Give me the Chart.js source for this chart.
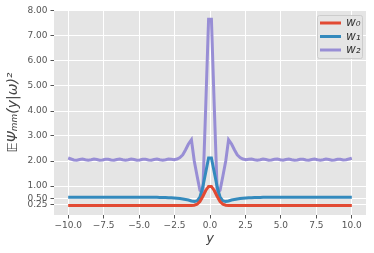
<!DOCTYPE html>
<html>
<head>
<meta charset="utf-8">
<script src="https://cdn.jsdelivr.net/npm/chart.js@4/dist/chart.umd.min.js"></script>
<style>
  html, body { margin: 0; padding: 0; background: #fff; }
  #wrap { width: 374px; height: 253px; }
</style>
</head>
<body>
<div id="wrap"><canvas id="myChart" width="374" height="253"></canvas></div>
<script>
const ctx = document.getElementById('myChart');

// sample grid on the y axis (100 points from -10 to 10)
const yGrid = [
  -10.00, -9.80, -9.60, -9.39, -9.19, -8.99, -8.79, -8.59, -8.38, -8.18,
  -7.98, -7.78, -7.58, -7.37, -7.17, -6.97, -6.77, -6.57, -6.36, -6.16,
  -5.96, -5.76, -5.56, -5.35, -5.15, -4.95, -4.75, -4.55, -4.34, -4.14,
  -3.94, -3.74, -3.54, -3.33, -3.13, -2.93, -2.73, -2.53, -2.32, -2.12,
  -1.92, -1.72, -1.52, -1.31, -1.11, -0.91, -0.71, -0.51, -0.30, -0.10,
  0.10, 0.30, 0.51, 0.71, 0.91, 1.11, 1.31, 1.52, 1.72, 1.92,
  2.12, 2.32, 2.53, 2.73, 2.93, 3.13, 3.33, 3.54, 3.74, 3.94,
  4.14, 4.34, 4.55, 4.75, 4.95, 5.15, 5.35, 5.56, 5.76, 5.96,
  6.16, 6.36, 6.57, 6.77, 6.97, 7.17, 7.37, 7.58, 7.78, 7.98,
  8.18, 8.38, 8.59, 8.79, 8.99, 9.19, 9.39, 9.60, 9.80, 10.00
];

const w0 = [
  0.22, 0.22, 0.22, 0.22, 0.22, 0.22, 0.22, 0.22, 0.22, 0.22,
  0.22, 0.22, 0.22, 0.22, 0.22, 0.22, 0.22, 0.22, 0.22, 0.22,
  0.22, 0.22, 0.22, 0.22, 0.22, 0.22, 0.22, 0.22, 0.22, 0.22,
  0.22, 0.22, 0.22, 0.22, 0.22, 0.22, 0.22, 0.22, 0.22, 0.22,
  0.22, 0.22, 0.22, 0.22, 0.23, 0.27, 0.38, 0.58, 0.82, 0.98,
  0.98, 0.82, 0.58, 0.38, 0.27, 0.23, 0.22, 0.22, 0.22, 0.22,
  0.22, 0.22, 0.22, 0.22, 0.22, 0.22, 0.22, 0.22, 0.22, 0.22,
  0.22, 0.22, 0.22, 0.22, 0.22, 0.22, 0.22, 0.22, 0.22, 0.22,
  0.22, 0.22, 0.22, 0.22, 0.22, 0.22, 0.22, 0.22, 0.22, 0.22,
  0.22, 0.22, 0.22, 0.22, 0.22, 0.22, 0.22, 0.22, 0.22, 0.22
];

const w1 = [
  0.55, 0.55, 0.55, 0.55, 0.55, 0.55, 0.55, 0.55, 0.55, 0.55,
  0.55, 0.55, 0.55, 0.55, 0.55, 0.55, 0.55, 0.55, 0.55, 0.55,
  0.55, 0.55, 0.55, 0.55, 0.55, 0.55, 0.55, 0.55, 0.55, 0.55,
  0.55, 0.55, 0.54, 0.54, 0.54, 0.53, 0.53, 0.52, 0.51, 0.50,
  0.48, 0.46, 0.44, 0.40, 0.38, 0.40, 0.55, 0.95, 1.55, 2.12,
  2.12, 1.55, 0.95, 0.55, 0.40, 0.38, 0.40, 0.44, 0.46, 0.48,
  0.50, 0.51, 0.52, 0.53, 0.53, 0.54, 0.54, 0.54, 0.55, 0.55,
  0.55, 0.55, 0.55, 0.55, 0.55, 0.55, 0.55, 0.55, 0.55, 0.55,
  0.55, 0.55, 0.55, 0.55, 0.55, 0.55, 0.55, 0.55, 0.55, 0.55,
  0.55, 0.55, 0.55, 0.55, 0.55, 0.55, 0.55, 0.55, 0.55, 0.55
];

const w2 = [
  2.12, 2.08, 2.04, 2.03, 2.06, 2.08, 2.05, 2.03, 2.05, 2.08,
  2.06, 2.03, 2.04, 2.07, 2.07, 2.04, 2.03, 2.06, 2.08, 2.05,
  2.03, 2.05, 2.08, 2.06, 2.03, 2.04, 2.07, 2.07, 2.04, 2.03,
  2.06, 2.08, 2.05, 2.03, 2.05, 2.08, 2.07, 2.05, 2.08, 2.14,
  2.25, 2.45, 2.68, 2.85, 2.00, 1.40, 0.83, 0.72, 4.20, 7.67,
  7.67, 4.20, 0.72, 0.83, 1.40, 2.00, 2.85, 2.68, 2.45, 2.25,
  2.14, 2.08, 2.05, 2.07, 2.08, 2.05, 2.03, 2.05, 2.08, 2.06,
  2.03, 2.04, 2.07, 2.08, 2.05, 2.03, 2.06, 2.08, 2.05, 2.03,
  2.04, 2.07, 2.07, 2.04, 2.03, 2.06, 2.08, 2.05, 2.03, 2.05,
  2.08, 2.06, 2.03, 2.04, 2.07, 2.07, 2.04, 2.05, 2.08, 2.11
];

const seriesNames = ['w₀', 'w₁', 'w₂'];
const seriesColors = ['#E24A33', '#348ABD', '#988ED5'];
const xTicks = [-10, -7.5, -5, -2.5, 0, 2.5, 5, 7.5, 10];
const yTicks = [0.25, 0.5, 1, 2, 3, 4, 5, 6, 7, 8];

function toPoints(vals) {
  return vals.map((v, i) => ({ x: yGrid[i], y: v }));
}

function fmt(v, d) {
  return v.toFixed(d).replace('-', '\u2212');
}

const panelBg = {
  id: 'panelBg',
  beforeDraw(chart) {
    const a = chart.chartArea;
    const c = chart.ctx;
    c.save();
    c.fillStyle = '#E5E5E5';
    c.fillRect(a.left, a.top, a.right - a.left, a.bottom - a.top);
    c.restore();
  }
};

// legend box in the upper right corner, like the matplotlib one
const boxLegend = {
  id: 'boxLegend',
  afterDatasetsDraw(chart) {
    const c = chart.ctx;
    const a = chart.chartArea;
    const x0 = a.right - 49, y0 = a.top + 5, w = 45, h = 43;
    c.save();
    c.beginPath();
    c.roundRect(x0 + 0.5, y0 + 0.5, w, h, 2);
    c.fillStyle = 'rgba(229,229,229,0.8)';
    c.fill();
    c.strokeStyle = '#CCCCCC';
    c.lineWidth = 1;
    c.stroke();
    chart.data.datasets.forEach((ds, i) => {
      const ly = y0 + 8 + i * 13.5;
      c.beginPath();
      c.moveTo(x0 + 3, ly);
      c.lineTo(x0 + 24, ly);
      c.strokeStyle = ds.borderColor;
      c.lineWidth = 3;
      c.stroke();
      c.fillStyle = '#333';
      c.font = 'italic 12px "DejaVu Sans"';
      c.textBaseline = 'middle';
      c.fillText(ds.label, x0 + 29, ly);
    });
    c.restore();
  }
};

new Chart(ctx, {
  type: 'line',
  data: {
    datasets: [0, 1, 2].map(i => ({
      label: seriesNames[i],
      data: toPoints([w0, w1, w2][i]),
      borderColor: seriesColors[i],
      backgroundColor: seriesColors[i],
      borderWidth: 3,
      pointRadius: 0,
      tension: 0,
      fill: false
    }))
  },
  options: {
    responsive: false,
    animation: false,
    devicePixelRatio: 1,
    layout: { padding: { top: 10, right: 8, left: 0, bottom: 0 } },
    plugins: {
      legend: { display: false },
      tooltip: { enabled: false }
    },
    scales: {
      x: {
        type: 'linear',
        min: -11,
        max: 11,
        afterBuildTicks: s => { s.ticks = xTicks.map(v => ({ value: v })); },
        afterFit: s => { s.height = 38; },
        grid: { color: '#FFFFFF', lineWidth: 1, tickColor: '#555', tickLength: 3.5 },
        border: { display: false },
        ticks: {
          autoSkip: false,
          maxRotation: 0,
          padding: 2,
          color: '#555',
          font: { family: 'DejaVu Sans', size: 9 },
          callback: v => fmt(v, 1)
        },
        title: {
          display: true,
          text: 'y',
          color: '#444',
          font: { family: 'DejaVu Sans', size: 13, style: 'italic' },
          padding: { top: 0, bottom: 7 }
        }
      },
      y: {
        type: 'linear',
        min: -0.16,
        max: 8.04,
        afterBuildTicks: s => { s.ticks = yTicks.map(v => ({ value: v })); },
        afterFit: s => { s.width = 54; },
        grid: { color: '#FFFFFF', lineWidth: 1, tickColor: '#555', tickLength: 3.5 },
        border: { display: false },
        ticks: {
          autoSkip: false,
          padding: 3,
          color: '#555',
          font: { family: 'DejaVu Sans', size: 9 },
          callback: v => fmt(v, 2)
        },
        title: {
          display: true,
          text: '𝔼Ψₘₘ(y|ω)²',
          color: '#444',
          font: { family: 'DejaVu Sans', size: 14, style: 'italic' },
          padding: { top: 5, bottom: 0 }
        }
      }
    }
  },
  plugins: [panelBg, boxLegend]
});
</script>
</body>
</html>
